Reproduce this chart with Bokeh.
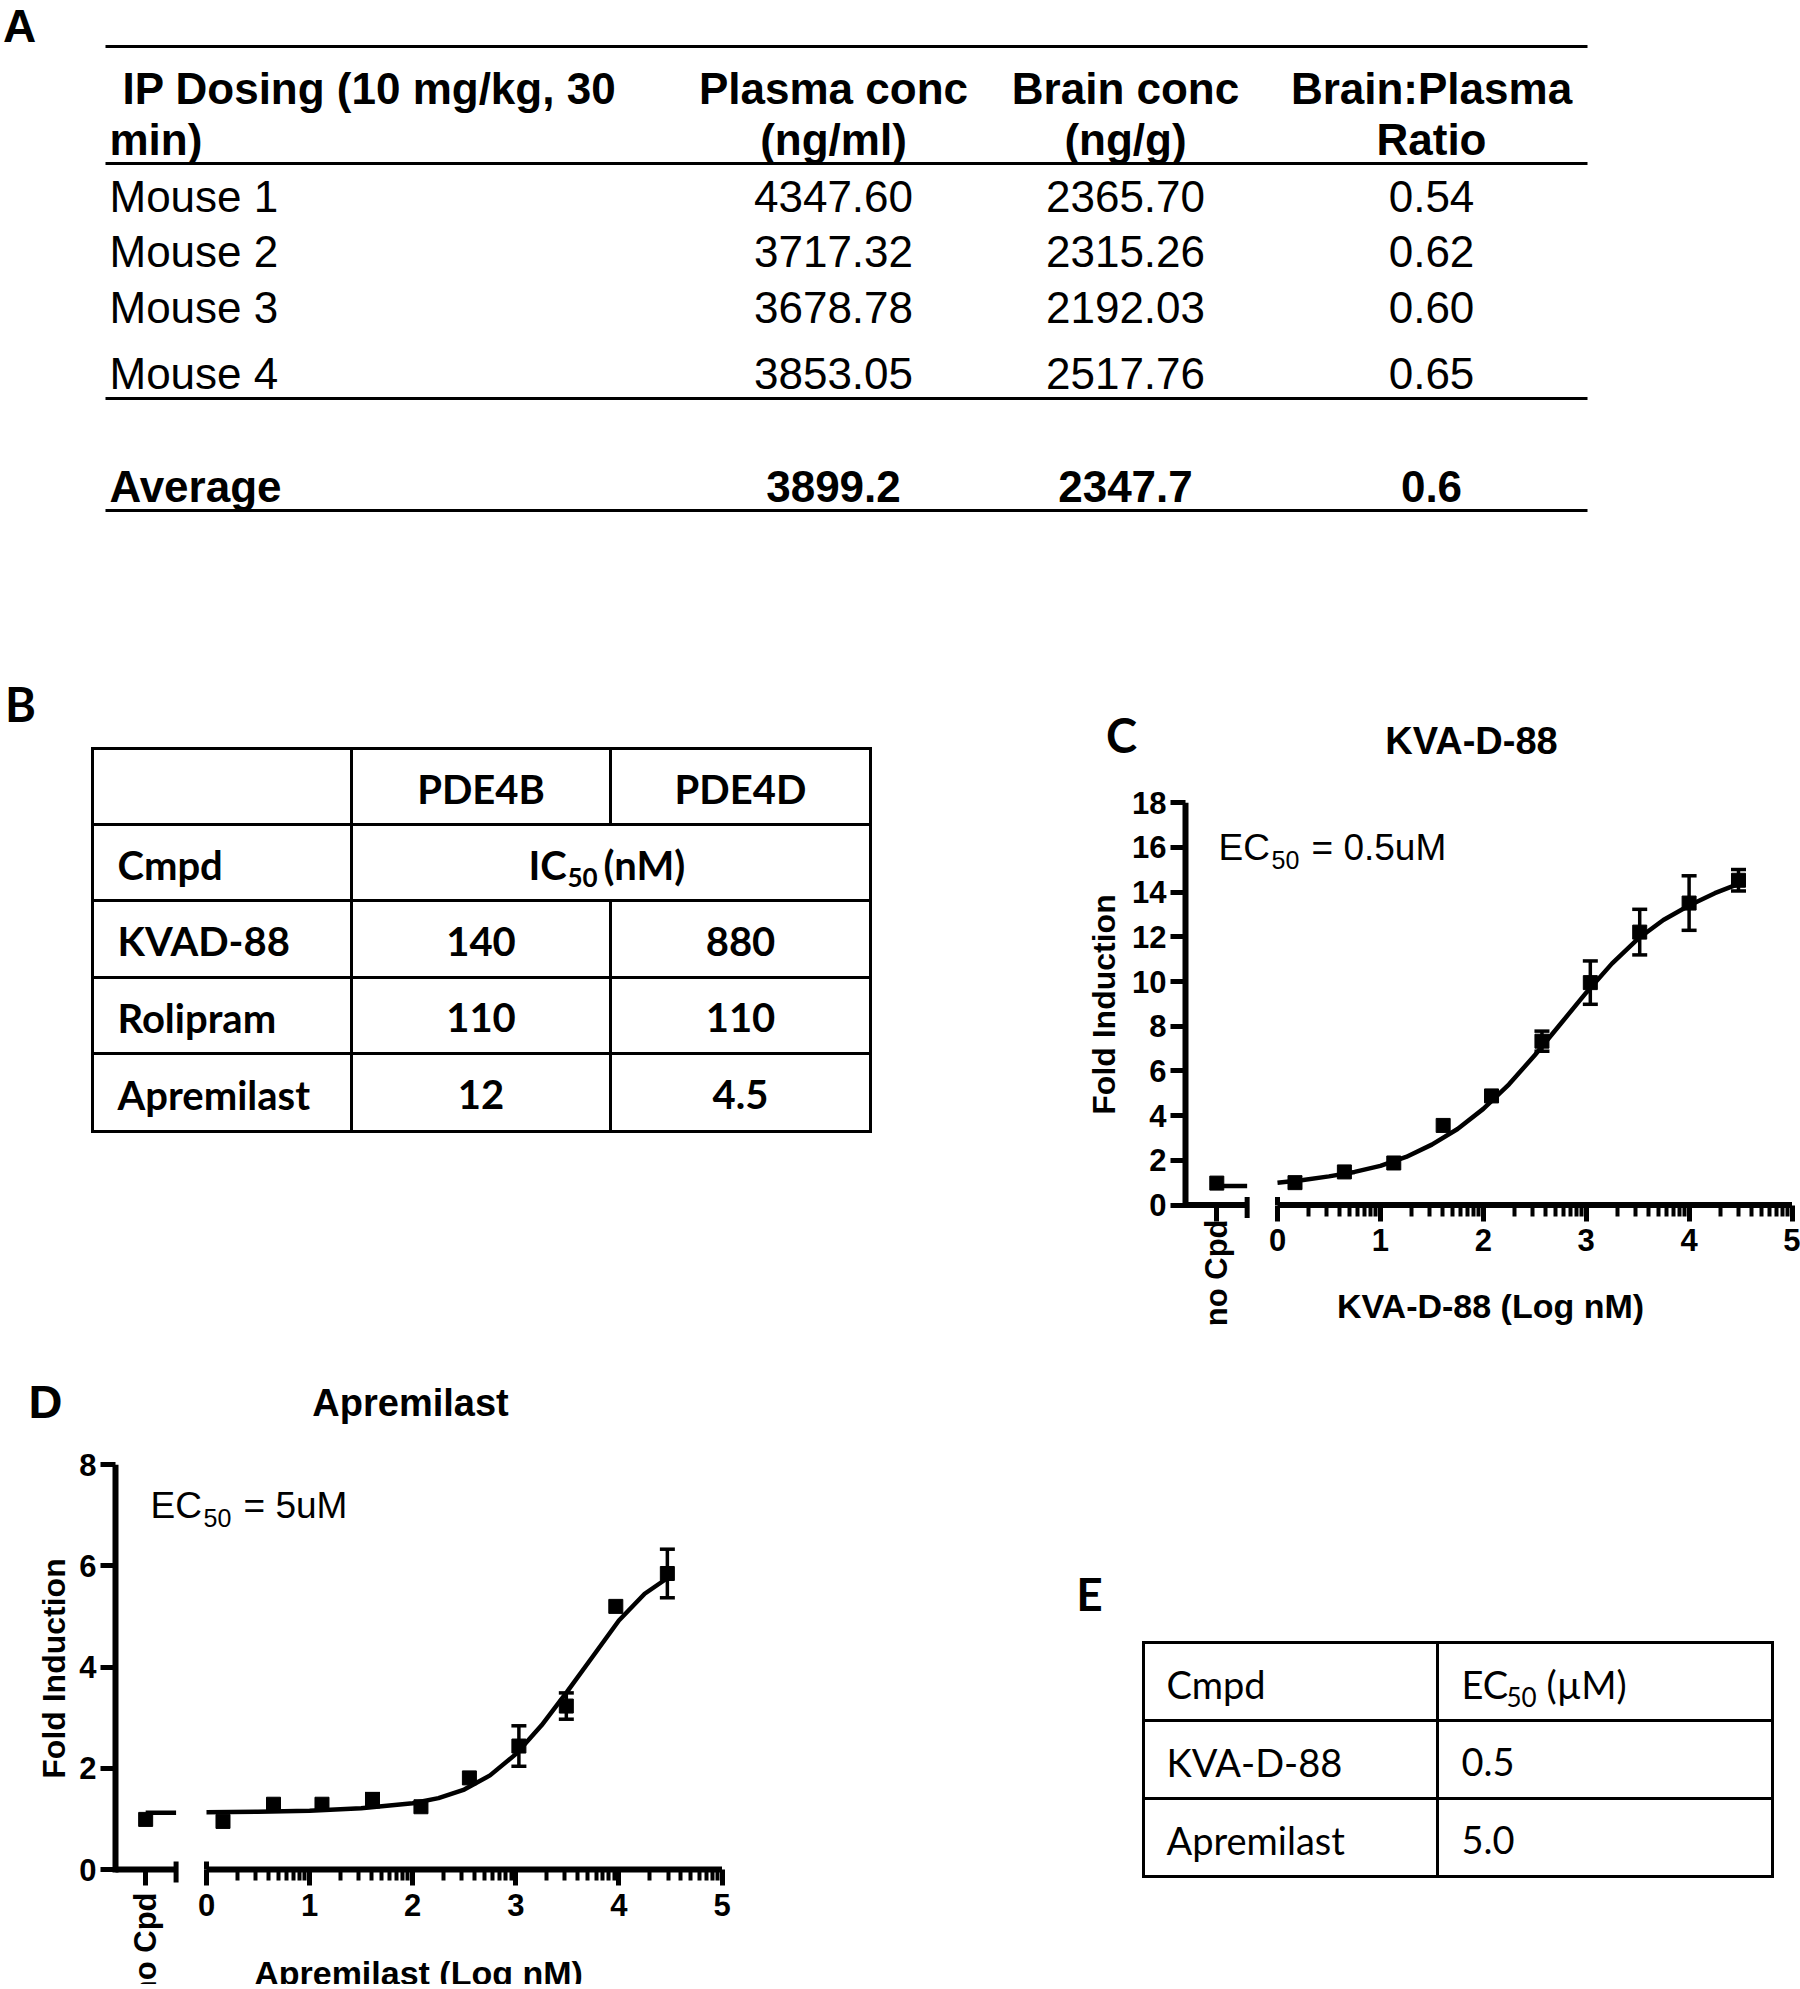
import math
from bokeh.plotting import figure
from bokeh.models import (Range1d, FixedTicker, CustomJSTickFormatter,
                          Whisker, TeeHead, ColumnDataSource)
from bokeh.layouts import row, column
from bokeh.embed import file_html
from bokeh.resources import INLINE
from bokeh.core.properties import value

# ---------------------------------------------------------------- data
# Panel A
a_head_1 = ["IP Dosing (10 mg/kg, 30", "Plasma conc", "Brain conc", "Brain:Plasma"]
a_head_2 = ["min)", "(ng/ml)", "(ng/g)", "Ratio"]
a_mice = ["Mouse 1", "Mouse 2", "Mouse 3", "Mouse 4"]
a_plasma = [4347.60, 3717.32, 3678.78, 3853.05]
a_brain = [2365.70, 2315.26, 2192.03, 2517.76]
a_ratio = [0.54, 0.62, 0.60, 0.65]
a_avg_label = "Average"
a_avg = [3899.2, 2347.7, 0.6]

# Panel B
b_targets = ["PDE4B", "PDE4D"]
b_cmpds = ["KVAD-88", "Rolipram", "Apremilast"]
b_pde4b = [140, 110, 12]
b_pde4d = [880, 110, 4.5]

# Panel C (KVA-D-88)
c_logx = [0.17, 0.65, 1.13, 1.61, 2.08, 2.57, 3.04, 3.52, 4.00, 4.48]
c_fold = [1.00, 1.48, 1.88, 3.56, 4.88, 7.33, 9.95, 12.21, 13.51, 14.53]
c_err = [0, 0, 0, 0, 0, 0.45, 0.97, 1.02, 1.22, 0.48]
c_nocpd = 0.98
c_nocpd_fit = 0.85
c_fit_x = [0.0, 0.25, 0.5, 0.75, 1.0, 1.25, 1.5, 1.75, 2.0, 2.25, 2.5, 2.75,
           3.0, 3.25, 3.5, 3.75, 4.0, 4.25, 4.5]
c_fit_y = [1.00, 1.12, 1.28, 1.48, 1.75, 2.15, 2.70, 3.40, 4.30, 5.40, 6.70, 8.10,
           9.50, 10.80, 11.90, 12.75, 13.40, 13.95, 14.40]
c_yticks = [0, 2, 4, 6, 8, 10, 12, 14, 16, 18]

# Panel D (Apremilast)
d_logx = [0.16, 0.65, 1.12, 1.61, 2.08, 2.55, 3.03, 3.49, 3.97, 4.47]
d_fold = [0.95, 1.29, 1.29, 1.37, 1.24, 1.81, 2.44, 3.23, 5.20, 5.85]
d_err = [0, 0, 0, 0.13, 0, 0, 0.40, 0.26, 0, 0.48]
d_nocpd = 0.99
d_nocpd_fit = 1.12
d_fit_x = [0.0, 0.5, 1.0, 1.5, 2.0, 2.25, 2.5, 2.75, 3.0, 3.25, 3.5, 3.75,
           4.0, 4.25, 4.5]
d_fit_y = [1.13, 1.14, 1.16, 1.21, 1.31, 1.41, 1.58, 1.86, 2.28, 2.85, 3.52, 4.22,
           4.92, 5.45, 5.80]
d_yticks = [0, 2, 4, 6, 8]

x_ticks = [0, 1, 2, 3, 4, 5]

# Panel E
e_cmpds = ["KVA-D-88", "Apremilast"]
e_ec50 = [0.5, 5.0]

# ---------------------------------------------------------------- helpers
ARIAL = "Liberation Sans"
CAL = "Lato"
NOCPD_X = -0.59
BREAK_X = -0.295


def canvas(x0, x1, y0, y1):
    p = figure(width=x1 - x0, height=y1 - y0, x_range=Range1d(x0, x1),
               y_range=Range1d(y1, y0), x_axis_type=None, y_axis_type=None,
               output_backend="svg", toolbar_location=None, min_border=0,
               title=None)
    p.outline_line_color = None
    p.background_fill_color = "white"
    p.border_fill_color = "white"
    return p


def txt(p, xs, ys, texts, size, font=ARIAL, bold=False, align="left", angle=0.0):
    p.text(x=xs, y=ys, text=texts, text_font=value(font),
           text_font_size=f"{size}px",
           text_font_style="bold" if bold else "normal",
           text_align=align, text_baseline="middle", text_color="black",
           angle=angle)


def hseg(p, x0, x1, y, w=3):
    p.segment(x0=[x0], y0=[y], x1=[x1], y1=[y], line_width=w, line_color="black")


def vseg(p, x, y0, y1, w=3):
    p.segment(x0=[x], y0=[y0], x1=[x], y1=[y1], line_width=w, line_color="black")


# ---------------------------------------------------------------- panel A
pa = canvas(0, 1800, 0, 670)
txt(pa, [19], [25], ["A"], 46, ARIAL, True, "center")
for yy in [46, 163, 398, 510]:
    hseg(pa, 105, 1587, yy, 3)
A_COLS = [833, 1125, 1431]
txt(pa, [122], [88], a_head_1[:1], 44, ARIAL, True, "left")
txt(pa, A_COLS, [88] * 3, a_head_1[1:], 44, ARIAL, True, "center")
txt(pa, [109], [139], a_head_2[:1], 44, ARIAL, True, "left")
txt(pa, A_COLS, [139] * 3, a_head_2[1:], 44, ARIAL, True, "center")
A_ROWS = [196, 251, 307, 373]
txt(pa, [109] * 4, A_ROWS, a_mice, 44, ARIAL, False, "left")
txt(pa, [A_COLS[0]] * 4, A_ROWS, [f"{v:.2f}" for v in a_plasma], 44, ARIAL, False, "center")
txt(pa, [A_COLS[1]] * 4, A_ROWS, [f"{v:.2f}" for v in a_brain], 44, ARIAL, False, "center")
txt(pa, [A_COLS[2]] * 4, A_ROWS, [f"{v:.2f}" for v in a_ratio], 44, ARIAL, False, "center")
txt(pa, [109], [486], [a_avg_label], 44, ARIAL, True, "left")
txt(pa, A_COLS, [486] * 3, [f"{v:.1f}" for v in a_avg], 44, ARIAL, True, "center")

# ---------------------------------------------------------------- panel B
pb = canvas(0, 1000, 670, 1370)
txt(pb, [20], [703], ["B"], 47, CAL, True, "center")
BX = [92, 351, 610, 870]
BY = [748, 824, 900, 977, 1053, 1131]
for yy in BY:
    hseg(pb, BX[0] - 1.5, BX[3] + 1.5, yy, 3)
for xx in [BX[0], BX[1], BX[3]]:
    vseg(pb, xx, BY[0], BY[5], 3)
vseg(pb, BX[2], BY[0], BY[1], 3)
vseg(pb, BX[2], BY[2], BY[5], 3)
bcx = [(BX[1] + BX[2]) / 2, (BX[2] + BX[3]) / 2]
brow = [(BY[i] + BY[i + 1]) / 2 + 2 for i in range(5)]
txt(pb, bcx, [brow[0]] * 2, b_targets, 40, CAL, True, "center")
txt(pb, [117], [brow[1]], ["Cmpd"], 40, CAL, True, "left")
txt(pb, [528], [brow[1]], ["IC"], 40, CAL, True, "left")
txt(pb, [567], [brow[1] + 13], ["50"], 26, CAL, True, "left")
txt(pb, [603], [brow[1]], ["(nM)"], 40, CAL, True, "left")
txt(pb, [117] * 3, brow[2:], b_cmpds, 40, CAL, True, "left")
txt(pb, [bcx[0]] * 3, brow[2:], [f"{v:g}" for v in b_pde4b], 40, CAL, True, "center")
txt(pb, [bcx[1]] * 3, brow[2:], [f"{v:g}" for v in b_pde4d], 40, CAL, True, "center")

# ---------------------------------------------------------------- panel E
pe = canvas(900, 1800, 1370, 1984)
txt(pe, [1089], [1593], ["E"], 46, CAL, True, "center")
EX = [1143, 1437, 1772]
EY = [1642, 1720, 1798, 1876]
for yy in EY:
    hseg(pe, EX[0] - 1.5, EX[2] + 1.5, yy, 3)
for xx in EX:
    vseg(pe, xx, EY[0], EY[3], 3)
erow = [(EY[i] + EY[i + 1]) / 2 + 2 for i in range(3)]
txt(pe, [1166], [erow[0]], ["Cmpd"], 38, CAL, False, "left")
txt(pe, [1461], [erow[0]], ["EC"], 38, CAL, False, "left")
txt(pe, [1506], [erow[0] + 13], ["50"], 26, CAL, False, "left")
txt(pe, [1546], [erow[0]], ["(\u00b5M)"], 38, CAL, False, "left")
txt(pe, [1166] * 2, erow[1:], e_cmpds, 38, CAL, False, "left")
txt(pe, [1461] * 2, erow[1:], [f"{v:.1f}" for v in e_ec50], 38, CAL, False, "left")


# ---------------------------------------------------------------- charts
def chart(box, x0px, ppx, yaxpx, y0px, ppy, yticks, xs, ys, errs, fit_x, fit_y,
          nocpd, nocpd_fit, texts):
    L, T, W, H = box
    xr = ((L - x0px) / ppx, (L + W - x0px) / ppx)
    yr = ((y0px - (T + H)) / ppy, (y0px - T) / ppy)
    p = figure(width=W, height=H, x_range=Range1d(*xr), y_range=Range1d(*yr),
               output_backend="svg", toolbar_location=None, title=None, min_border=0)
    p.grid.visible = False
    p.outline_line_color = None
    p.background_fill_color = "white"
    p.border_fill_color = "white"

    def D(X, Y):
        x = NOCPD_X if X is None else (X - x0px) / ppx
        return x, (y0px - Y) / ppy

    yax = (yaxpx - x0px) / ppx
    ytop = yticks[-1]

    ya = p.yaxis[0]
    ya.fixed_location = yax
    ya.ticker = FixedTicker(ticks=yticks)
    ya.axis_line_color = None
    ya.major_tick_line_width = 5
    ya.major_tick_line_color = "black"
    ya.major_tick_out = 15
    ya.major_tick_in = 0
    ya.minor_tick_line_color = None
    ya.major_label_text_font = ARIAL
    ya.major_label_text_font_style = "bold"
    ya.major_label_text_font_size = "31px"
    ya.major_label_text_color = "black"
    ya.major_label_standoff = 4

    minor = [d + math.log10(k) for d in range(5) for k in range(2, 10)]
    xa = p.xaxis[0]
    xa.fixed_location = 0
    xa.ticker = FixedTicker(ticks=[NOCPD_X] + x_ticks, minor_ticks=minor)
    xa.formatter = CustomJSTickFormatter(code="return tick >= 0 ? tick.toFixed(0) : '';")
    xa.axis_line_color = None
    xa.major_tick_line_width = 5
    xa.major_tick_line_color = "black"
    xa.major_tick_out = 16
    xa.major_tick_in = 0
    xa.minor_tick_line_width = 4
    xa.minor_tick_line_color = "black"
    xa.minor_tick_out = 11
    xa.minor_tick_in = 0
    xa.major_label_text_font = ARIAL
    xa.major_label_text_font_style = "bold"
    xa.major_label_text_font_size = "31px"
    xa.major_label_text_color = "black"
    xa.major_label_standoff = 8

    # axis lines (y axis and broken x axis) and break marks
    p.segment(x0=[yax], y0=[-3 / ppy], x1=[yax], y1=[ytop], line_width=6, line_color="black")
    p.segment(x0=[yax, 0], y0=[0, 0], x1=[BREAK_X, x_ticks[-1]], y1=[0, 0],
              line_width=6, line_color="black")
    p.segment(x0=[BREAK_X, 0], y0=[-13 / ppy, 0], x1=[BREAK_X, 0], y1=[8 / ppy, 8 / ppy],
              line_width=5, line_color="black")

    # fitted curve
    p.line(fit_x, fit_y, line_width=4.5, line_color="black")
    p.segment(x0=[NOCPD_X], y0=[nocpd_fit], x1=[BREAK_X], y1=[nocpd_fit],
              line_width=4.5, line_color="black")

    # error bars
    ex = [x for x, e in zip(xs, errs) if e > 0]
    ey = [y for y, e in zip(ys, errs) if e > 0]
    ee = [e for e in errs if e > 0]
    src = ColumnDataSource(dict(x=ex, upper=[y + e for y, e in zip(ey, ee)],
                                lower=[y - e for y, e in zip(ey, ee)]))
    w = Whisker(base="x", upper="upper", lower="lower", source=src,
                line_width=3.5, line_color="black",
                upper_head=TeeHead(size=15, line_width=3.5, line_color="black"),
                lower_head=TeeHead(size=15, line_width=3.5, line_color="black"))
    p.add_layout(w)

    # points
    p.scatter(xs, ys, marker="square", size=14, fill_color="black", line_color="black")
    p.scatter([NOCPD_X], [nocpd], marker="square", size=14, fill_color="black",
              line_color="black")

    # texts given in reference-pixel positions
    for (X, Y), s, size, font, bold, align, ang in texts:
        x, y = D(X, Y)
        txt(p, [x], [y], [s], size, font, bold, align, ang)
    return p


R90 = math.pi / 2

# Panel C
pc = chart((1000, 670, 800, 700), 1277, 102.9, 1185, 1204.5, 22.35,
           c_yticks, c_logx, c_fold, c_err, c_fit_x, c_fit_y, c_nocpd, c_nocpd_fit,
           [((1121, 734), "C", 47, CAL, True, "center", 0),
            ((1471, 740), "KVA-D-88", 38, ARIAL, True, "center", 0),
            ((1218, 847), "EC", 37, ARIAL, False, "left", 0),
            ((1271, 859), "50", 25, ARIAL, False, "left", 0),
            ((1311, 847), "= 0.5uM", 37, ARIAL, False, "left", 0),
            ((1103, 1004), "Fold Induction", 32, ARIAL, True, "center", R90),
            ((1490, 1305), "KVA-D-88 (Log nM)", 34, ARIAL, True, "center", 0),
            ((None, 1219), "no Cpd", 31, ARIAL, True, "right", R90)])

# Panel D
pd_ = chart((0, 1370, 900, 614), 206, 103.1, 115, 1869, 50.6,
            d_yticks, d_logx, d_fold, d_err, d_fit_x, d_fit_y, d_nocpd, d_nocpd_fit,
            [((45, 1401), "D", 47, ARIAL, True, "center", 0),
             ((410, 1402), "Apremilast", 38, ARIAL, True, "center", 0),
             ((150, 1505), "EC", 37, ARIAL, False, "left", 0),
             ((203, 1517), "50", 25, ARIAL, False, "left", 0),
             ((243, 1505), "= 5uM", 37, ARIAL, False, "left", 0),
             ((53, 1668), "Fold Induction", 32, ARIAL, True, "center", R90),
             ((418, 1972), "Apremilast (Log nM)", 34, ARIAL, True, "center", 0),
             ((None, 1892), "no Cpd", 31, ARIAL, True, "right", R90)])

layout = column(pa, row(pb, pc, spacing=0), row(pd_, pe, spacing=0), spacing=0)
open("out.html", "w").write(file_html(layout, INLINE))
